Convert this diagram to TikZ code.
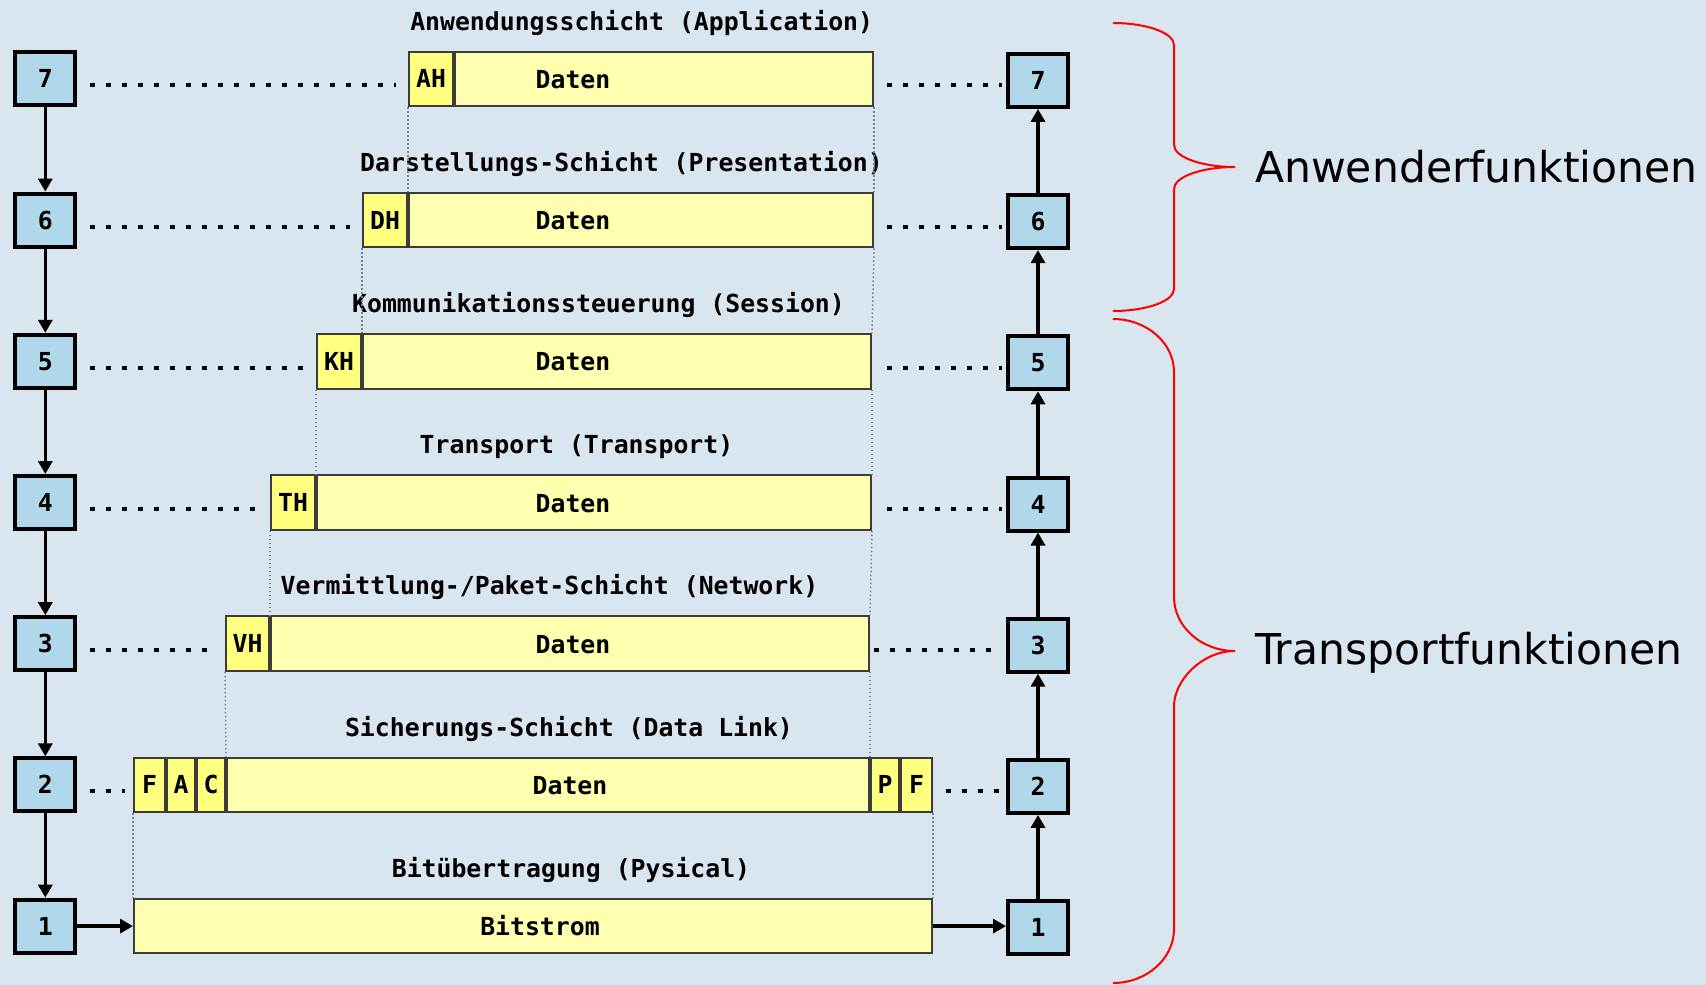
\documentclass[tikz,border=0pt]{standalone}
\usepackage{fontspec}
\usetikzlibrary{arrows.meta}
\newfontfamily\monofnt{DejaVu Sans Mono}
\newfontfamily\sansfnt{DejaVu Sans}
\newcommand\monotext{\monofnt\bfseries\fontsize{24.8pt}{28pt}\selectfont}
\newcommand\sidetext{\sansfnt\fontsize{42.5pt}{50pt}\selectfont}
\definecolor{bg}{RGB}{217,229,239}
\definecolor{layerblue}{RGB}{176,216,234}
\definecolor{datayellow}{RGB}{255,255,176}
\definecolor{hdryellow}{RGB}{255,255,128}
\definecolor{boxline}{RGB}{60,60,60}
\definecolor{guidegray}{RGB}{120,128,136}
\definecolor{bracered}{RGB}{255,0,0}

\begin{document}
\begin{tikzpicture}[x=1pt,y=-1pt,
  layer/.style={draw=black, line width=4pt, fill=layerblue, minimum width=60pt,
    minimum height=53pt, inner sep=0pt, font=\monotext, text height=18pt, text depth=0pt},
  cell/.style={draw=boxline, line width=2pt, minimum height=54.5pt, inner sep=0pt,
    font=\monotext, text height=18pt, text depth=0pt},
  hdr/.style={cell, fill=hdryellow},
  dat/.style={cell, fill=datayellow},
  txt/.style={font=\monotext, inner sep=0pt, anchor=base},
  arr/.style={line width=3.5pt, -{Triangle[length=13pt,width=14pt]}},
  dots/.style={line width=4pt, dash pattern=on 4.5pt off 11.5pt},
  guide/.style={draw=guidegray, line width=1.5pt, dash pattern=on 1.5pt off 2.5pt},
  brace/.style={draw=bracered, line width=2pt},
  side/.style={font=\sidetext, inner sep=0pt, anchor=base west},
]
% canvas
\fill[bg] (0,0) rectangle (1706,985);
\useasboundingbox (0,0) rectangle (1706,985);

% layer stacks, sender (left) and receiver (right)
\node[layer] (L7) at (45.3,78.9) {7};
\node[layer] (L6) at (45.3,220.1) {6};
\node[layer] (L5) at (45.3,361.3) {5};
\node[layer] (L4) at (45.3,502.5) {4};
\node[layer] (L3) at (45.3,643.7) {3};
\node[layer] (L2) at (45.3,784.9) {2};
\node[layer] (L1) at (45.3,926.1) {1};

\node[layer] (R7) at (1038,80.4) {7};
\node[layer] (R6) at (1038,221.6) {6};
\node[layer] (R5) at (1038,362.8) {5};
\node[layer] (R4) at (1038,504) {4};
\node[layer] (R3) at (1038,645.2) {3};
\node[layer] (R2) at (1038,786.4) {2};
\node[layer] (R1) at (1038,927.6) {1};

% layer names
\node[txt] (n7) at (641.7,30) {Anwendungsschicht (Application)};
\node[txt] (n6) at (621.5,171.2) {Darstellungs-Schicht (Presentation)};
\node[txt] (n5) at (598.5,312.4) {Kommunikationssteuerung (Session)};
\node[txt] (n4) at (576.5,453.6) {Transport (Transport)};
\node[txt] (n3) at (549.5,594.8) {Vermittlung-/Paket-Schicht (Network)};
\node[txt] (n2) at (569,736) {Sicherungs-Schicht (Data Link)};
\node[txt] (n1) at (571,877.2) {Bitübertragung (Pysical)};

% protocol data units
\node[dat, minimum width=418pt] (D7) at (664,78.9) {};
\node[hdr, minimum width=44pt] (H7) at (431,78.9) {AH};
\node[dat, minimum width=464pt] (D6) at (641,220.1) {};
\node[hdr, minimum width=44pt] (H6) at (385,220.1) {DH};
\node[dat, minimum width=508pt] (D5) at (617,361.3) {};
\node[hdr, minimum width=44pt] (H5) at (339,361.3) {KH};
\node[dat, minimum width=554pt] (D4) at (594,502.5) {};
\node[hdr, minimum width=44pt] (H4) at (293,502.5) {TH};
\node[dat, minimum width=598pt] (D3) at (570,643.7) {};
\node[hdr, minimum width=43pt] (H3) at (247.5,643.7) {VH};

\node[dat, minimum width=642pt] (D2) at (548,784.9) {};
\node[hdr, minimum width=31pt] (F2) at (149.5,784.9) {F};
\node[hdr, minimum width=28pt] (A2) at (181,784.9) {A};
\node[hdr, minimum width=28pt] (C2) at (211,784.9) {C};
\node[hdr, minimum width=28pt] (P2) at (885,784.9) {P};
\node[hdr, minimum width=31pt] (E2) at (916.5,784.9) {F};

\node[dat, minimum width=798pt] (B1) at (533,926.1) {};

\node[txt] (t7) at (573,88.4) {Daten};
\node[txt] (t6) at (573,229.6) {Daten};
\node[txt] (t5) at (573,370.8) {Daten};
\node[txt] (t4) at (573,512) {Daten};
\node[txt] (t3) at (573,653.2) {Daten};
\node[txt] (t2) at (570,794.4) {Daten};
\node[txt] (t1) at (540,935.6) {Bitstrom};

% encapsulation guides
\draw[guide] (H7.south west) -- (H6.north east);
\draw[guide] (D7.south east) -- (D6.north east);
\draw[guide] (H6.south west) -- (H5.north east);
\draw[guide] (D6.south east) -- (D5.north east);
\draw[guide] (H5.south west) -- (H4.north east);
\draw[guide] (D5.south east) -- (D4.north east);
\draw[guide] (H4.south west) -- (H3.north east);
\draw[guide] (D4.south east) -- (D3.north east);
\draw[guide] (H3.south west) -- (C2.north east);
\draw[guide] (D3.south east) -- (P2.north west);
\draw[guide] (F2.south west) -- (B1.north west);
\draw[guide] (E2.south east) -- (B1.north east);

% peer relations
\draw[dots, shorten <=13pt, shorten >=12pt] ([yshift=-6.5pt]L7.east) -- ([yshift=-6.5pt]H7.west);
\draw[dots, shorten <=13pt, shorten >=12pt] ([yshift=-6.5pt]L6.east) -- ([yshift=-6.5pt]H6.west);
\draw[dots, shorten <=13pt, shorten >=12pt] ([yshift=-6.5pt]L5.east) -- ([yshift=-6.5pt]H5.west);
\draw[dots, shorten <=13pt, shorten >=12pt] ([yshift=-6.5pt]L4.east) -- ([yshift=-6.5pt]H4.west);
\draw[dots, shorten <=13pt, shorten >=12pt] ([yshift=-6.5pt]L3.east) -- ([yshift=-6.5pt]H3.west);
\draw[dots, shorten <=13pt, shorten >=8pt] ([yshift=-6.5pt]L2.east) -- ([yshift=-6.5pt]F2.west);

\draw[dots, shorten <=13pt, shorten >=4pt] ([yshift=-6.5pt]D7.east) -- ([yshift=-6.5pt]D7.east -| R7.west);
\draw[dots, shorten <=13pt, shorten >=4pt] ([yshift=-6.5pt]D6.east) -- ([yshift=-6.5pt]D6.east -| R6.west);
\draw[dots, shorten <=15pt, shorten >=4pt] ([yshift=-6.5pt]D5.east) -- ([yshift=-6.5pt]D5.east -| R5.west);
\draw[dots, shorten <=15pt, shorten >=4pt] ([yshift=-6.5pt]D4.east) -- ([yshift=-6.5pt]D4.east -| R4.west);
\draw[dots, shorten <=4pt, shorten >=4pt] ([yshift=-6.5pt]D3.east) -- ([yshift=-6.5pt]D3.east -| R3.west);
\draw[dots, shorten <=13pt, shorten >=4pt] ([yshift=-6.5pt]E2.east) -- ([yshift=-6.5pt]E2.east -| R2.west);

% data flow
\draw[arr] (L7) -- (L6);
\draw[arr] (L6) -- (L5);
\draw[arr] (L5) -- (L4);
\draw[arr] (L4) -- (L3);
\draw[arr] (L3) -- (L2);
\draw[arr] (L2) -- (L1);
\draw[arr] (L1) -- (B1);
\draw[arr] (B1.east) -- (B1.east -| R1.west);
\draw[arr] (R1) -- (R2);
\draw[arr] (R2) -- (R3);
\draw[arr] (R3) -- (R4);
\draw[arr] (R4) -- (R5);
\draw[arr] (R5) -- (R6);
\draw[arr] (R6) -- (R7);

% groupings
\draw[brace] (1113,23) .. controls (1146.6,23) and (1174,32.9) .. (1174,45)
  -- (1174,145) .. controls (1174,157.1) and (1201.4,167) .. (1235,167)
  .. controls (1201.4,167) and (1174,176.9) .. (1174,189)
  -- (1174,289) .. controls (1174,301.1) and (1146.6,311) .. (1113,311);
\draw[brace] (1113,319) .. controls (1146.6,319) and (1174,342.9) .. (1174,372)
  -- (1174,597) .. controls (1174,626.7) and (1201.4,651) .. (1235,651)
  .. controls (1201.4,651) and (1174,681) .. (1174,706)
  -- (1174,929) .. controls (1174,958.7) and (1146.6,983) .. (1113,983);

\node[side] (anw) at (1255,182) {Anwenderfunktionen};
\node[side] (trn) at (1255,664) {Transportfunktionen};
\end{tikzpicture}
\end{document}
